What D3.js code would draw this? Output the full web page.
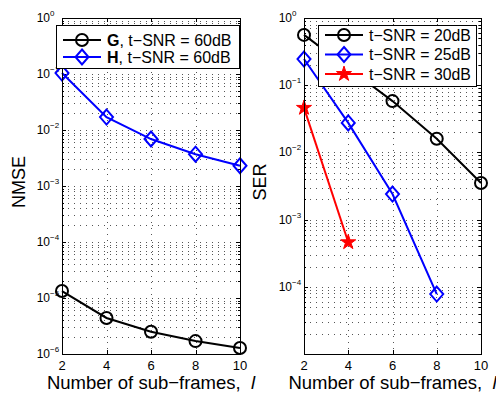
<!DOCTYPE html>
<html>
<head>
<meta charset="utf-8">
<script src="https://cdn.jsdelivr.net/npm/d3@7"></script>
<style>
  body { margin: 0; background: #fff; }
  text { font-family: "Liberation Sans", Arial, sans-serif; fill: #000; }
</style>
</head>
<body>
<div id="chart"></div>
<script>
// Two MATLAB-style log panels: NMSE and SER vs. number of sub-frames
const width = 496, height = 395;

const subFrames = [2, 4, 6, 8, 10];
const nmseG = [1.33e-5, 4.4e-6, 2.5e-6, 1.7e-6, 1.28e-6];
const nmseH = [0.104, 0.017, 0.0069, 0.0037, 0.0023];
const ser20 = [0.56, 0.18, 0.058, 0.016, 0.0035];
const ser25 = [0.245, 0.0275, 0.0024, 7.8e-5];
const ser30 = [0.046, 4.6e-4];
const xTicks = [2, 4, 6, 8, 10];

const svg = d3.select("#chart").append("svg")
  .attr("width", width).attr("height", height);

const diamond = "M0,-7.5L6.5,0L0,7.5L-6.5,0Z";
const star = d3.symbol(d3.symbolStar).size(70)();

function drawMarker(g, type, color) {
  if (type === "o") {
    g.append("circle").attr("r", 6).attr("fill", "none")
      .attr("stroke", color).attr("stroke-width", 2);
  } else if (type === "d") {
    g.append("path").attr("d", diamond).attr("fill", "none")
      .attr("stroke", color).attr("stroke-width", 2);
  } else {
    g.append("path").attr("d", star).attr("fill", color)
      .attr("stroke", color).attr("stroke-width", 1);
  }
}

function panel(opt) {
  const {left, right, top, bottom, yMin, yLabel, labelOffset, skipBottom, series, legend} = opt;
  const g = svg.append("g");
  const x = d3.scaleLinear().domain([2, 10]).range([left, right]);
  const y = d3.scaleLog().domain([yMin, 1]).range([bottom, top]);
  const decades = d3.range(Math.round(Math.log10(yMin)), 1);

  // grid
  const minors = [];
  decades.forEach(k => { if (k < 0) d3.range(2, 10).forEach(m => minors.push(m * Math.pow(10, k))); });
  const grid = g.append("g").attr("stroke", "#555").attr("stroke-width", 1)
    .attr("stroke-dasharray", "1,5").attr("shape-rendering", "crispEdges");
  grid.selectAll(".hg").data(minors.concat(decades.map(k => Math.pow(10, k))).filter(v => v > yMin && v < 1))
    .join("line").attr("x1", left).attr("x2", right)
    .attr("y1", d => Math.round(y(d)) + 0.5).attr("y2", d => Math.round(y(d)) + 0.5);
  grid.selectAll(".vg").data(xTicks.slice(1, -1)).join("line")
    .attr("x1", d => Math.round(x(d)) + 0.5).attr("x2", d => Math.round(x(d)) + 0.5)
    .attr("y1", top).attr("y2", bottom);

  // ticks inside the box, all four sides
  const ticks = g.append("g").attr("stroke", "#000").attr("stroke-width", 1).attr("shape-rendering", "crispEdges");
  decades.forEach(k => {
    const yy = Math.round(y(Math.pow(10, k))) + 0.5;
    ticks.append("line").attr("x1", left).attr("x2", left + 4).attr("y1", yy).attr("y2", yy);
    ticks.append("line").attr("x1", right - 4).attr("x2", right).attr("y1", yy).attr("y2", yy);
  });
  minors.forEach(v => {
    const yy = Math.round(y(v)) + 0.5;
    ticks.append("line").attr("x1", left).attr("x2", left + 2).attr("y1", yy).attr("y2", yy);
    ticks.append("line").attr("x1", right - 2).attr("x2", right).attr("y1", yy).attr("y2", yy);
  });
  xTicks.forEach(t => {
    const xx = Math.round(x(t)) + 0.5;
    ticks.append("line").attr("x1", xx).attr("x2", xx).attr("y1", bottom).attr("y2", bottom - 4);
    ticks.append("line").attr("x1", xx).attr("x2", xx).attr("y1", top).attr("y2", top + 4);
  });

  // tick labels
  decades.forEach((k, i) => {
    if (skipBottom && i === 0) return;
    const yy = y(Math.pow(10, k));
    g.append("text").attr("x", left - 12).attr("y", yy + 4).attr("text-anchor", "end")
      .attr("font-size", 12).text("10");
    g.append("text").attr("x", left - 12).attr("y", yy - 2).attr("font-size", 8)
      .text(k === 0 ? "0" : "\u2212" + (-k));
  });
  xTicks.forEach(t => {
    g.append("text").attr("x", x(t)).attr("y", bottom + 16).attr("text-anchor", "middle")
      .attr("font-size", 13).text(t);
  });

  // axis titles
  const xl = g.append("text").attr("x", (left + right) / 2).attr("y", height - 6)
    .attr("text-anchor", "middle").attr("font-size", 18.5);
  xl.append("tspan").text("Number of sub\u2212frames,\u00a0\u00a0");
  xl.append("tspan").attr("font-style", "italic").text("l");
  g.append("text").attr("transform", `translate(${left - labelOffset},${(top + bottom) / 2 - 4}) rotate(-90)`)
    .attr("text-anchor", "middle").attr("font-size", 18).text(yLabel);

  // data
  series.forEach(s => {
    const pts = s.values.map((v, i) => [x(subFrames[i]), y(v)]);
    g.append("path").attr("d", d3.line()(pts)).attr("fill", "none")
      .attr("stroke", s.color).attr("stroke-width", 2);
    pts.forEach(p => drawMarker(g.append("g").attr("transform", `translate(${p[0]},${p[1]})`), s.marker, s.color));
  });

  // box
  g.append("rect").attr("x", left + 0.5).attr("y", top + 0.5)
    .attr("width", right - left).attr("height", bottom - top)
    .attr("fill", "none").attr("stroke", "#000").attr("stroke-width", 1).attr("shape-rendering", "crispEdges");

  // legend
  const lg = g.append("g").attr("transform", `translate(${legend.x},${legend.y})`);
  lg.append("rect").attr("x", 0.5).attr("y", 0.5).attr("width", legend.w).attr("height", legend.h)
    .attr("fill", "#fff").attr("stroke", "#000").attr("shape-rendering", "crispEdges");
  series.forEach((s, i) => {
    const ry = legend.row0 + i * legend.step;
    lg.append("line").attr("x1", 7).attr("x2", 45).attr("y1", ry).attr("y2", ry)
      .attr("stroke", s.color).attr("stroke-width", 2);
    drawMarker(lg.append("g").attr("transform", `translate(26,${ry})`), s.marker, s.color);
    const t = lg.append("text").attr("x", 51).attr("y", ry + 5.5).attr("font-size", legend.fs);
    if (s.bold) {
      t.append("tspan").attr("font-weight", "bold").text(s.bold);
      t.append("tspan").text(s.label);
    } else t.text(s.label);
  });
}

panel({
  left: 62, right: 240, top: 18, bottom: 354, yMin: 1e-6, yLabel: "NMSE", labelOffset: 37,
  series: [
    {values: nmseG, color: "#000", marker: "o", bold: "G", label: ", t\u2212SNR = 60dB"},
    {values: nmseH, color: "#0000ff", marker: "d", bold: "H", label: ", t\u2212SNR = 60dB"}
  ],
  legend: {x: 56, y: 25, w: 183, h: 43, row0: 15, step: 17, fs: 16}
});

panel({
  left: 304, right: 481, top: 18, bottom: 354, yMin: 1e-5, yLabel: "SER", labelOffset: 38, skipBottom: true,
  series: [
    {values: ser20, color: "#000", marker: "o", label: "t\u2212SNR = 20dB"},
    {values: ser25, color: "#0000ff", marker: "d", label: "t\u2212SNR = 25dB"},
    {values: ser30, color: "#ff0000", marker: "p", label: "t\u2212SNR = 30dB"}
  ],
  legend: {x: 318, y: 25, w: 158, h: 61, row0: 10, step: 19.5, fs: 15.8}
});
</script>
</body>
</html>
